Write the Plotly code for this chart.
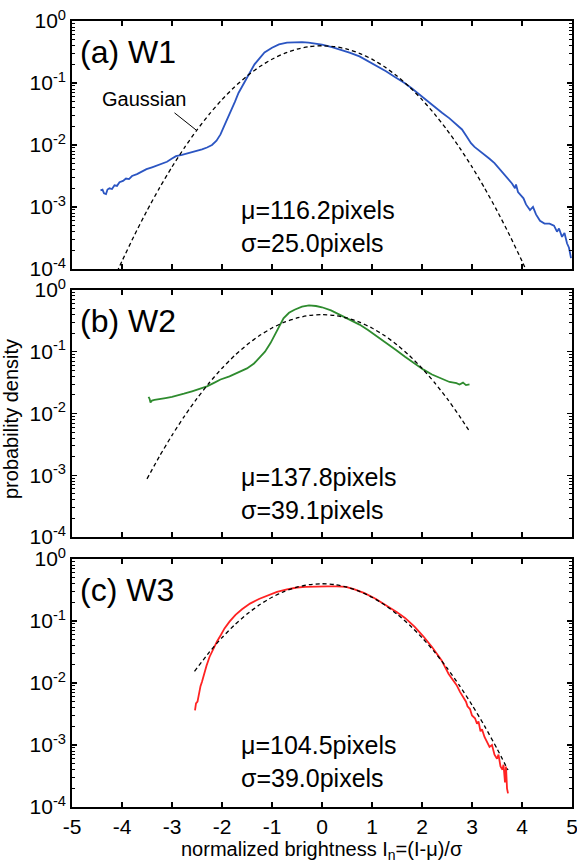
import plotly.graph_objects as go

# ---------------- data ----------------
# (a) W1  (blue)
w1_x = [-4.43, -4.39, -4.36, -4.32, -4.29, -4.25, -4.20, -4.15, -4.10, -4.05, -3.98, -3.92, -3.86, -3.80,
        -3.70, -3.60, -3.51, -3.40, -3.30, -3.20, -3.10, -3.00, -2.92, -2.80, -2.70, -2.60, -2.50, -2.40,
        -2.30, -2.20, -2.11, -2.03, -1.96, -1.88, -1.81, -1.74, -1.67, -1.60, -1.52, -1.45, -1.35, -1.25,
        -1.15, -1.00, -0.86, -0.70, -0.56, -0.40, -0.27, -0.10, 0.00, 0.20, 0.40, 0.55, 0.75, 0.91, 1.10,
        1.28, 1.45, 1.65, 1.80, 1.95, 2.10, 2.24, 2.40, 2.55, 2.68, 2.80, 2.90, 2.98, 3.05, 3.15, 3.25,
        3.35, 3.45, 3.55, 3.64, 3.72, 3.80, 3.86, 3.88, 3.92, 3.97, 4.03, 4.08, 4.16, 4.22, 4.28, 4.36,
        4.45, 4.55, 4.64, 4.70, 4.74, 4.80, 4.85, 4.90, 4.94, 4.98]
w1_y = [1.86e-3, 1.91e-3, 1.66e-3, 1.62e-3, 1.91e-3, 2.0e-3, 1.95e-3, 2.24e-3, 2.19e-3, 2.51e-3, 2.63e-3,
        2.88e-3, 2.82e-3, 3.16e-3, 3.39e-3, 3.72e-3, 4.07e-3, 4.37e-3, 4.68e-3, 5.13e-3, 5.37e-3, 6.03e-3,
        6.61e-3, 6.92e-3, 7.24e-3, 7.76e-3, 7.94e-3, 8.51e-3, 9.12e-3, 1.0e-2, 1.17e-2, 1.48e-2, 2.0e-2,
        2.75e-2, 3.72e-2, 5.0e-2, 6.9e-2, 8.7e-2, 0.115, 0.148, 0.20, 0.25, 0.31, 0.37, 0.42, 0.447, 0.457,
        0.457, 0.447, 0.427, 0.417, 0.38, 0.339, 0.309, 0.269, 0.229, 0.191, 0.155, 0.126, 0.100, 0.0813,
        0.0646, 0.0513, 0.0417, 0.0331, 0.0269, 0.0219, 0.0178, 0.0135, 0.0107, 0.0093, 0.0081, 0.0071,
        0.0060, 0.0051, 0.0041, 0.0033, 0.0028, 0.0024, 0.0020, 0.0023, 0.00174, 0.00158, 0.00138, 0.0011,
        0.00089, 0.0010, 0.00076, 0.00060, 0.00054, 0.00054, 0.00050, 0.00040, 0.00045, 0.00033, 0.00038,
        0.00026, 0.00022, 0.00015]

# (b) W2  (green)
w2_x = [-3.47, -3.45, -3.43, -3.40, -3.35, -3.25, -3.13, -3.00, -2.88, -2.76, -2.60, -2.45, -2.30, -2.15,
        -2.03, -1.85, -1.66, -1.50, -1.36, -1.25, -1.14, -1.03, -0.92, -0.84, -0.77, -0.66, -0.55, -0.40,
        -0.26, -0.12, 0.00, 0.18, 0.35, 0.55, 0.75, 0.92, 1.10, 1.29, 1.48, 1.66, 1.85, 2.03, 2.20, 2.39,
        2.55, 2.69, 2.75, 2.82, 2.88, 2.95]
w2_y = [0.0186, 0.0174, 0.0151, 0.0162, 0.0166, 0.0170, 0.0178, 0.0186, 0.0195, 0.0209, 0.0229, 0.0251,
        0.0275, 0.0316, 0.0355, 0.0398, 0.0468, 0.0537, 0.0646, 0.0794, 0.100, 0.138, 0.20, 0.275, 0.347,
        0.427, 0.479, 0.537, 0.562, 0.55, 0.525, 0.468, 0.398, 0.339, 0.275, 0.224, 0.178, 0.138, 0.107,
        0.083, 0.0646, 0.0513, 0.0427, 0.0363, 0.0324, 0.0309, 0.0295, 0.0316, 0.0288, 0.0295]

# (c) W3  (red)
w3_x = [-2.54, -2.52, -2.49, -2.47, -2.45, -2.43, -2.40, -2.36, -2.31, -2.25, -2.18, -2.10, -2.02, -1.95,
        -1.85, -1.73, -1.60, -1.44, -1.25, -1.07, -0.90, -0.70, -0.50, -0.33, -0.10, 0.10, 0.30, 0.48, 0.65,
        0.85, 1.07, 1.29, 1.50, 1.66, 1.85, 2.03, 2.20, 2.39, 2.53, 2.60, 2.69, 2.76, 2.82, 2.88, 2.91, 2.96,
        3.00, 3.06, 3.10, 3.13, 3.17, 3.20, 3.25, 3.30, 3.35, 3.40, 3.45, 3.50, 3.53, 3.57, 3.61, 3.63, 3.66,
        3.68, 3.70, 3.72]
w3_y = [0.00363, 0.00468, 0.0050, 0.0063, 0.0071, 0.0089, 0.0105, 0.0138, 0.019, 0.0263, 0.0355, 0.0468,
        0.060, 0.0759, 0.0977, 0.126, 0.155, 0.191, 0.229, 0.263, 0.295, 0.324, 0.347, 0.355, 0.363, 0.363,
        0.363, 0.355, 0.324, 0.282, 0.229, 0.178, 0.138, 0.112, 0.0813, 0.0562, 0.038, 0.0234, 0.0141,
        0.0117, 0.0093, 0.0072, 0.0060, 0.0050, 0.0042, 0.0038, 0.0030, 0.0027, 0.0022, 0.0024, 0.00166,
        0.0018, 0.00135, 0.00112, 0.00093, 0.0010, 0.0007, 0.0006, 0.0007, 0.00045, 0.0004, 0.00048,
        0.00025, 0.00045, 0.0002, 0.000166]

# dashed Gaussian references
ga_x = [-4.1, -4.0, -3.75, -3.5, -3.25, -3.0, -2.75, -2.5, -2.25, -2.0, -1.75, -1.5, -1.25, -1.0, -0.75,
        -0.5, -0.25, 0.0, 0.25, 0.5, 0.75, 1.0, 1.25, 1.5, 1.75, 2.0, 2.25, 2.5, 2.75, 3.0, 3.25, 3.5,
        3.75, 4.0, 4.1]
ga_y = [8.93e-5, 1.34e-4, 3.53e-4, 8.73e-4, 2.03e-3, 4.43e-3, 9.09e-3, 0.0175, 0.0317, 0.0540, 0.0863,
        0.1295, 0.1826, 0.2420, 0.3011, 0.3521, 0.3867, 0.3989, 0.3867, 0.3521, 0.3011, 0.2420, 0.1826,
        0.1295, 0.0863, 0.0540, 0.0317, 0.0175, 9.09e-3, 4.43e-3, 2.03e-3, 8.73e-4, 3.53e-4, 1.34e-4,
        8.93e-5]
gb_x = [-3.5, -3.25, -3.0, -2.75, -2.5, -2.25, -2.0, -1.75, -1.5, -1.25, -1.0, -0.75, -0.5, -0.25, 0.0,
        0.25, 0.5, 0.75, 1.0, 1.25, 1.5, 1.75, 2.0, 2.25, 2.5, 2.75, 2.95]
gb_y = [8.73e-4, 2.03e-3, 4.43e-3, 9.09e-3, 0.0175, 0.0317, 0.0540, 0.0863, 0.1295, 0.1826, 0.2420,
        0.3011, 0.3521, 0.3867, 0.3989, 0.3867, 0.3521, 0.3011, 0.2420, 0.1826, 0.1295, 0.0863, 0.0540,
        0.0317, 0.0175, 9.09e-3, 5.14e-3]
gc_x = [-2.55, -2.25, -2.0, -1.75, -1.5, -1.25, -1.0, -0.75, -0.5, -0.25, 0.0, 0.25, 0.5, 0.75, 1.0,
        1.25, 1.5, 1.75, 2.0, 2.25, 2.5, 2.75, 3.0, 3.25, 3.5, 3.72]
gc_y = [0.01545, 0.0317, 0.0540, 0.0863, 0.1295, 0.1826, 0.2420, 0.3011, 0.3521, 0.3867, 0.3989, 0.3867,
        0.3521, 0.3011, 0.2420, 0.1826, 0.1295, 0.0863, 0.0540, 0.0317, 0.0175, 9.09e-3, 4.43e-3,
        2.03e-3, 8.73e-4, 3.95e-4]

# "Gaussian" leader line end points (panel a)
leader_x = [-2.95, -2.52]
leader_y = [0.033, 0.0175]

panel_labels = ["(a) W1", "(b) W2", "(c) W3"]
stats_text = ["μ=116.2pixels<br>σ=25.0pixels",
              "μ=137.8pixels<br>σ=39.1pixels",
              "μ=104.5pixels<br>σ=39.0pixels"]
y_tick_vals = [1e-4, 1e-3, 1e-2, 1e-1, 1]
y_tick_text = ["10<sup>-4</sup>", "10<sup>-3</sup>", "10<sup>-2</sup>", "10<sup>-1</sup>", "10<sup>0</sup>"]
x_tick_vals = [-5, -4, -3, -2, -1, 0, 1, 2, 3, 4, 5]
x_tick_text = ["-5", "-4", "-3", "-2", "-1", "0", "1", "2", "3", "4", "5"]

# ---------------- figure ----------------
FONT = "Liberation Sans, Arial, Helvetica, sans-serif"
colors = ["#2b55c2", "#2e8b2e", "#ff2222"]
series = [(w1_x, w1_y, ga_x, ga_y), (w2_x, w2_y, gb_x, gb_y), (w3_x, w3_y, gc_x, gc_y)]
domains = [[0.6845, 1.0], [0.3435, 0.6578], [0.0, 0.3155]]

fig = go.Figure()
for i, (sx, sy, gx, gy) in enumerate(series):
    xa = "x" if i == 0 else f"x{i+1}"
    ya = "y" if i == 0 else f"y{i+1}"
    fig.add_trace(go.Scatter(x=sx, y=sy, mode="lines", line=dict(color=colors[i], width=1.8),
                             xaxis=xa, yaxis=ya, showlegend=False, hoverinfo="skip"))
    fig.add_trace(go.Scatter(x=gx, y=gy, mode="lines", line=dict(color="black", width=1.3, dash="4px,3px",
                             shape="spline", smoothing=0.6),
                             xaxis=xa, yaxis=ya, showlegend=False, hoverinfo="skip"))

fig.add_trace(go.Scatter(x=leader_x, y=leader_y, mode="lines", line=dict(color="black", width=1),
                         xaxis="x", yaxis="y", showlegend=False, hoverinfo="skip"))

minor_vals = [m * 10 ** e for e in range(-4, 0) for m in range(2, 10)]

layout = dict(width=577, height=865, plot_bgcolor="white", paper_bgcolor="white",
              margin=dict(l=72, r=5, t=21, b=58, autoexpand=False), showlegend=False,
              font=dict(family=FONT, size=20, color="black"))
for i in range(3):
    xk = "xaxis" if i == 0 else f"xaxis{i+1}"
    yk = "yaxis" if i == 0 else f"yaxis{i+1}"
    ya = "y" if i == 0 else f"y{i+1}"
    xa = "x" if i == 0 else f"x{i+1}"
    layout[xk] = dict(domain=[0, 1], range=[-5, 5], anchor=ya, tickmode="array", tickvals=x_tick_vals,
                      ticktext=x_tick_text,
                      ticks="inside", ticklen=5, tickwidth=1.2, tickcolor="black",
                      showline=True, linecolor="black", linewidth=1.8, mirror="allticks",
                      showgrid=False, zeroline=False, showticklabels=(i == 2), automargin=False,
                      ticklabeloverflow="allow", tickfont=dict(size=21, family=FONT))
    layout[yk] = dict(domain=domains[i], type="log", range=[-4, 0], anchor=xa, tickmode="array",
                      tickvals=y_tick_vals, ticktext=y_tick_text, ticks="inside", ticklen=5,
                      tickwidth=1.2, tickcolor="black", showline=True, linecolor="black", linewidth=1.8,
                      mirror="allticks", showgrid=False, zeroline=False, automargin=False,
                      ticklabeloverflow="allow", tickfont=dict(size=21, family=FONT),
                      minor=dict(tickmode="array", tickvals=minor_vals, ticks="inside", ticklen=3,
                                 tickcolor="black", tickwidth=1, showgrid=False))
fig.update_layout(**layout)

ann = []
for i in range(3):
    xa = "x" if i == 0 else f"x{i+1}"
    ya = "y" if i == 0 else f"y{i+1}"
    ann.append(dict(text=panel_labels[i], xref=f"{xa} domain", yref=f"{ya} domain", x=0.012, y=0.875,
                    xanchor="left", yanchor="middle", showarrow=False, font=dict(size=32, family=FONT)))
    ann.append(dict(text=stats_text[i], xref=xa, yref=f"{ya} domain", x=-1.67, y=[0.171, 0.178, 0.183][i],
                    xanchor="left", yanchor="middle", align="left", showarrow=False,
                    font=dict(size=25, family=FONT)))
ann.append(dict(text="Gaussian", xref="x", yref="y", x=-3.56, y=-1.26, xanchor="center", yanchor="middle",
                showarrow=False, font=dict(size=20, family=FONT)))
ann.append(dict(text="probability density", xref="paper", yref="paper", x=-0.122, y=0.4936,
                xanchor="center", yanchor="middle", textangle=-90, showarrow=False,
                font=dict(size=20, family=FONT)))
ann.append(dict(text="normalized brightness I<sub>n</sub>=(I-μ)/σ", xref="paper", yref="paper",
                x=0.5, y=-0.055, xanchor="center", yanchor="middle", showarrow=False,
                font=dict(size=20, family=FONT)))
fig.update_layout(annotations=ann)

fig.write_html("out.html", config={"displayModeBar": False, "staticPlot": True},
               post_script="document.body.style.margin='0';document.body.style.padding='0';"
                           "document.body.style.overflow='hidden';")
